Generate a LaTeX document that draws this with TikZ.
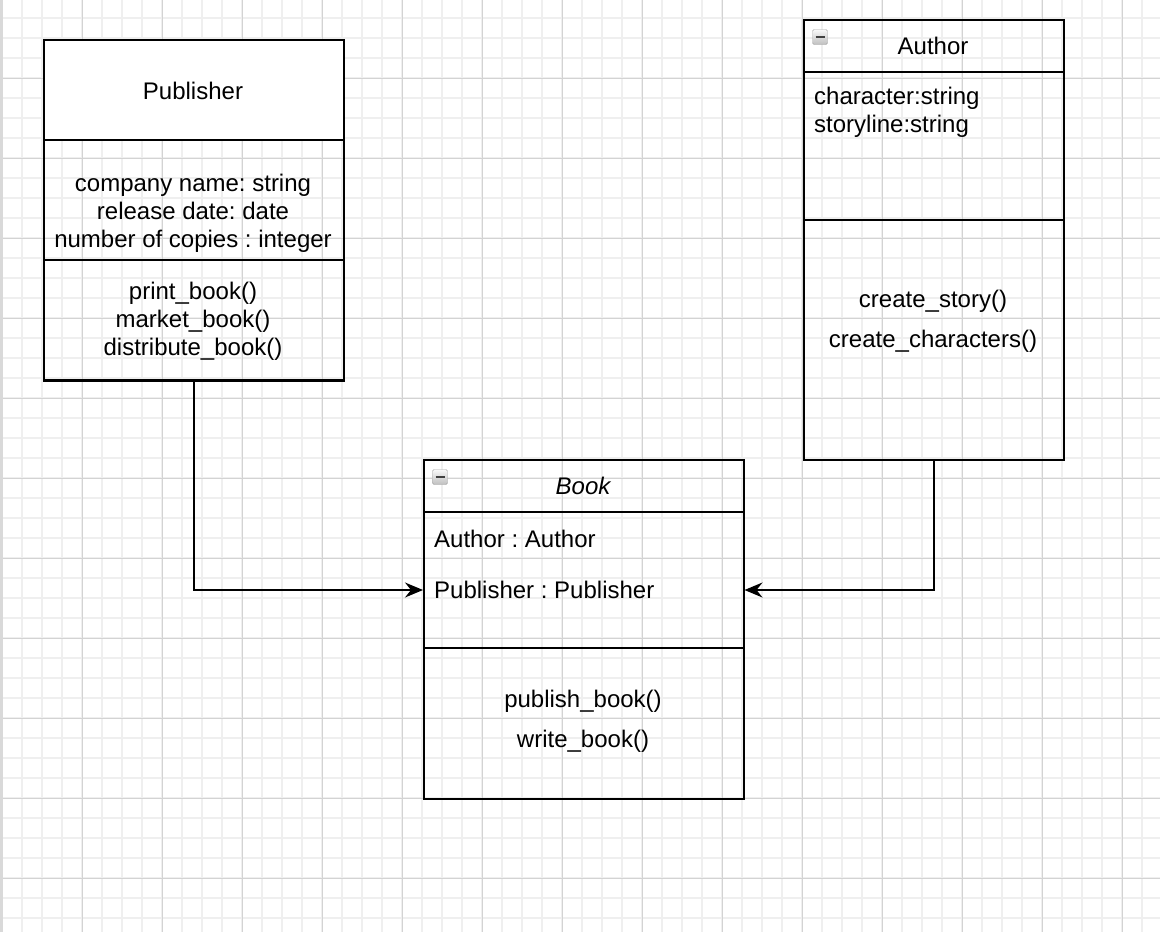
\documentclass[tikz,border=0pt]{standalone}
\usepackage{fontspec}
\setmainfont{Liberation Sans}
\usetikzlibrary{arrows.meta,positioning}

\definecolor{gridminor}{HTML}{EFEFEF}
\definecolor{gridmajor}{HTML}{D3D3D3}

\begin{document}
\frenchspacing
\begin{tikzpicture}[x=1pt,y=-1pt,
    part/.style={draw=black,line width=1.5pt,anchor=north west,inner sep=0pt},
    txt/.style={font=\fontsize{24}{28}\selectfont,inner sep=0pt},
    lefttxt/.style={txt,anchor=west},
    collapse/.style={draw=gray!70,rounded corners=1.5pt,top color=gray!5,bottom color=gray!50,
                     minimum size=15pt,inner sep=0pt},
    link/.style={draw=black,line width=1.5pt,-{Stealth[length=18pt,width=15pt,inset=6pt]}}]
      \useasboundingbox (0,0) rectangle (1160,932);
      % paper grid
      \foreach \x in {22,42,...,1160} \draw[gridminor,line width=1.5pt] (\x,0) -- (\x,932);
      \foreach \y in {18,38,...,932} \draw[gridminor,line width=1.5pt] (0,\y) -- (1160,\y);
      \foreach \x in {82,162,...,1160} \draw[gridmajor,line width=1pt] (\x,0) -- (\x,932);
      \foreach \y in {78,158,...,932} \draw[gridmajor,line width=1pt] (0,\y) -- (1160,\y);
      \fill[gray!30] (0,0) rectangle (3,932);

      % Publisher
      \node[part,fill=white,minimum width=300,minimum height=100] (pubhead) at (43,39) {};
      \node[part,minimum width=300,minimum height=120] (pubattrs) at (43,139) {};
      \node[part,minimum width=300,minimum height=120] (pubops) at (43,259) {};
      \draw[line width=3pt] (pubops.south west) -- (pubops.south east);
      \node[txt] (pubtitle) at (193,91) {Publisher};
      \node[txt,align=center] (pubfields) at (193,213)
        {company name: string\\release date: date\\number of copies : integer};
      \node[txt,align=center] (pubmethods) at (193,321)
        {print\_book()\\market\_book()\\distribute\_book()};

      % Author
      \node[part,minimum width=260,minimum height=52] (authhead) at (803,19) {};
      \node[part,minimum width=260,minimum height=148] (authattrs) at (803,71) {};
      \node[part,minimum width=260,minimum height=240] (authops) at (803,219) {};
      \node[collapse] (authicon) at (820,37) {};
      \draw[black!75,line width=2.5pt] ([xshift=-4.5pt]authicon.center) -- ([xshift=4.5pt]authicon.center);
      \node[txt] (authtitle) at (933,46) {Author};
      \node[lefttxt] (authchar) at (814,98) {character:string};
      \node[lefttxt] (authstory) at (814,126) {storyline:string};
      \node[txt] (authcreate) at (933,301) {create\_story()};
      \node[txt] (authchars) at (933,341) {create\_characters()};

      % Book
      \node[part,minimum width=320,minimum height=52] (bookhead) at (423,459) {};
      \node[part,minimum width=320,minimum height=136] (bookattrs) at (423,511) {};
      \node[part,minimum width=320,minimum height=151] (bookops) at (423,647) {};
      \node[collapse] (bookicon) at (440,477) {};
      \draw[black!75,line width=2.5pt] ([xshift=-4.5pt]bookicon.center) -- ([xshift=4.5pt]bookicon.center);
      \node[txt,font=\fontsize{24}{28}\selectfont\itshape] (booktitle) at (583,486) {Book};
      \node[lefttxt] (bookauth) at (434,539) {Author : Author};
      \node[lefttxt] (bookpub) at (434,590) {Publisher : Publisher};
      \node[txt] (bookpublish) at (583,701) {publish\_book()};
      \node[txt] (bookwrite) at (583,741) {write\_book()};

      % associations
      \path[link] (pubops.south) |- (bookpub -| bookattrs.west);
      \path[link] (authops.south) |- (bookpub -| bookattrs.east);
    \end{tikzpicture}
\end{document}
